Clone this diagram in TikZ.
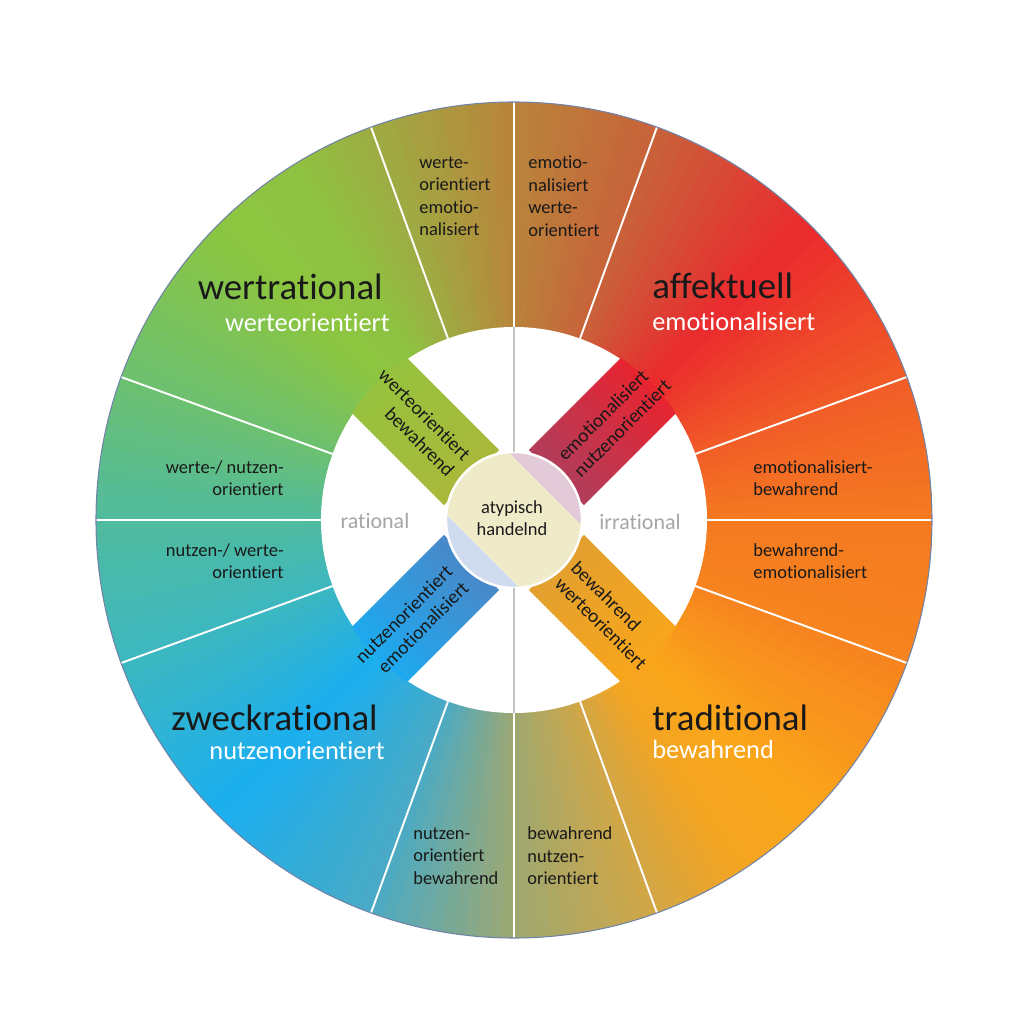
\documentclass[tikz,border=0pt]{standalone}
\usepackage{fontspec}
\setmainfont{Carlito}[Ligatures={NoCommon,NoContextual}]
\usepackage{tikz}
\usepackage{xcolor}
\usetikzlibrary{positioning}

\definecolor{c000}{HTML}{F47A20}
\definecolor{c020}{HTML}{F15D27}
\definecolor{c045}{HTML}{EB2A2E}
\definecolor{c070}{HTML}{C8623A}
\definecolor{c090}{HTML}{B9843B}
\definecolor{c110}{HTML}{9EAC43}
\definecolor{c122}{HTML}{8EC241}
\definecolor{c135}{HTML}{8CC540}
\definecolor{c160}{HTML}{6DC070}
\definecolor{c180}{HTML}{50BB9E}
\definecolor{c200}{HTML}{3DB7C0}
\definecolor{c225}{HTML}{1BAFF0}
\definecolor{c250}{HTML}{4AAAC4}
\definecolor{c270}{HTML}{9DA872}
\definecolor{c290}{HTML}{D2A645}
\definecolor{c302}{HTML}{F3A523}
\definecolor{c315}{HTML}{FAA61A}
\definecolor{c340}{HTML}{F7841F}
\definecolor{gruenin}{HTML}{AAB83A}
\definecolor{gruenout}{HTML}{96C23E}
\definecolor{rotin}{HTML}{B03E5C}
\definecolor{rotout}{HTML}{E9232F}
\definecolor{blauin}{HTML}{4A88C8}
\definecolor{blauout}{HTML}{1CAAF0}
\definecolor{orangein}{HTML}{E2A030}
\definecolor{orangeout}{HTML}{F8A61B}
\definecolor{kerncream}{HTML}{EFEAC8}
\definecolor{kernpink}{HTML}{E3CAD8}
\definecolor{kernblue}{HTML}{CFDBEE}
\definecolor{rimblue}{HTML}{7083A6}
\definecolor{midgray}{HTML}{C3C3C3}
\definecolor{labelgray}{HTML}{A6A6A6}

\tikzset{
  sepline/.style={white, line width=1.1pt},
  midline/.style={midgray, line width=1.3pt},
  sectortext/.style={font=\fontsize{10.5}{12.8}\selectfont, text=black!90, inner sep=0pt},
  bandtext/.style={font=\fontsize{11}{13}\selectfont, text=black!90, inner sep=0pt},
  typetitle/.style={font=\fontsize{21}{24}\selectfont, text=black!90, inner sep=0pt},
  typesub/.style={font=\fontsize{15}{18}\selectfont, text=white, inner sep=0pt},
  axistext/.style={font=\fontsize{12.5}{15}\selectfont, text=labelgray, inner sep=0pt}
}

% ring: wedges with mixed colours between two angles
\newcommand\ringpart[4]{%
  \foreach \k in {0,...,11}{%
    \pgfmathsetmacro\ringfrom{#1+(#2-#1)*\k/12}%
    \pgfmathsetmacro\ringto{#1+(#2-#1)*(\k+1)/12+0.4}%
    \pgfmathtruncatemacro\ringmix{100-(\k+0.5)*100/12}%
    \fill[#3!\ringmix!#4] (0,0) -- (\ringfrom:418) arc[start angle=\ringfrom, end angle=\ringto, radius=418] -- cycle;
  }}
% diagonal band from the centre to the ring
\newcommand\bandpart[3]{%
  \begin{scope}[rotate=#1]
  \foreach \k in {0,...,15}{%
    \pgfmathsetmacro\bandfrom{60+\k*8.5}%
    \pgfmathsetmacro\bandto{\bandfrom+9}%
    \pgfmathtruncatemacro\bandmix{100-(\k+0.5)*100/16}%
    \fill[#2!\bandmix!#3] (\bandfrom,-39) rectangle (\bandto,39);
  }
  \end{scope}}

\begin{document}
\begin{tikzpicture}[x=0.02cm,y=0.02cm]
\useasboundingbox (-514,-504) rectangle (510,520);
\ringpart{0}{20}{c000}{c020}
\ringpart{20}{45}{c020}{c045}
\ringpart{45}{70}{c045}{c070}
\ringpart{70}{90}{c070}{c090}
\ringpart{90}{110}{c090}{c110}
\ringpart{110}{122}{c110}{c122}
\ringpart{122}{135}{c122}{c135}
\ringpart{135}{160}{c135}{c160}
\ringpart{160}{180}{c160}{c180}
\ringpart{180}{200}{c180}{c200}
\ringpart{200}{225}{c200}{c225}
\ringpart{225}{250}{c225}{c250}
\ringpart{250}{270}{c250}{c270}
\ringpart{270}{290}{c270}{c290}
\ringpart{290}{302}{c290}{c302}
\ringpart{302}{315}{c302}{c315}
\ringpart{315}{340}{c315}{c340}
\ringpart{340}{360}{c340}{c000}
\fill[white] (0,0) circle (193);
\begin{scope}
\clip (0,0) circle (194);
\bandpart{45}{rotin}{rotout}
\bandpart{135}{gruenin}{gruenout}
\bandpart{225}{blauin}{blauout}
\bandpart{315}{orangein}{orangeout}
\end{scope}
\begin{scope}
\clip (0,0) circle (68);
\begin{scope}[rotate=45]
\fill[kernpink] (44,-80) rectangle (80,80);
\fill[kernblue] (-80,-80) rectangle (-44,80);
\fill[kerncream] (-44,-80) rectangle (44,80);
\end{scope}
\end{scope}
\draw[white, line width=1.4pt] (0,0) circle (68);
\draw[midline] (90:68) -- (90:193) (270:68) -- (270:193);
\foreach \a in {0,20,70,90,110,160,180,200,250,270,290,340}
  \draw[sepline] (\a:193) -- (\a:418);
\draw[rimblue, line width=0.6pt] (0,0) circle (418);

% big types
\node[typetitle, anchor=base east] (wert) at (-131,220) {wertrational};
\node[typesub, anchor=base east] (wertsub) at (-124,188) {werteorientiert};
\node[typetitle, anchor=base west] (affekt) at (138,221) {affektuell};
\node[typesub, anchor=base west] (affektsub) at (138,189) {emotionalisiert};
\node[typetitle, anchor=base east] (zweck) at (-136,-210) {zweckrational};
\node[typesub, anchor=base east] (zwecksub) at (-129,-239) {nutzenorientiert};
\node[typetitle, anchor=base west] (tradi) at (138,-210) {traditional};
\node[typesub, anchor=base west] (tradisub) at (138,-238) {bewahrend};

% mixed sectors
\node[sectortext, align=left] (s100) at (-59,324) {werte-\\orientiert\\emotio-\\nalisiert};
\node[sectortext, align=left] (s080) at (50,324) {emotio-\\nalisiert\\werte-\\orientiert};
\node[sectortext, align=right, anchor=east] (s170) at (-230,42) {werte-/ nutzen-\\orientiert};
\node[sectortext, align=right, anchor=east] (s190) at (-230,-41) {nutzen-/ werte-\\orientiert};
\node[sectortext, align=left, anchor=west] (s260) at (-101,-336) {nutzen-\\orientiert\\bewahrend};
\node[sectortext, align=left, anchor=west] (s280) at (13,-336) {bewahrend\\nutzen-\\orientiert};
\node[sectortext, align=left, anchor=west] (s350) at (239,-41) {bewahrend-\\emotionalisiert};
\node[sectortext, align=left, anchor=west] (s010) at (239,42) {emotionalisiert-\\bewahrend};

% bands and centre
\node[bandtext, rotate=-45, anchor=east, align=right] (bgruen) at (135:77) {werteorientiert\\bewahrend};
\node[bandtext, rotate=45, anchor=west, align=left] (brot) at (45:77) {emotionalisiert\\nutzenorientiert};
\node[bandtext, rotate=45, anchor=east, align=right] (bblau) at (225:80) {nutzenorientiert\\emotionalisiert};
\node[bandtext, rotate=-45, anchor=west, align=left] (borange) at (315:74) {bewahrend\\werteorientiert};
\node[sectortext, align=center] (kern) at (-2,2) {atypisch\\handelnd};
\node[axistext] (rat) at (-139,-1) {rational};
\node[axistext] (irrat) at (126,-2) {irrational};
\end{tikzpicture}
\end{document}
